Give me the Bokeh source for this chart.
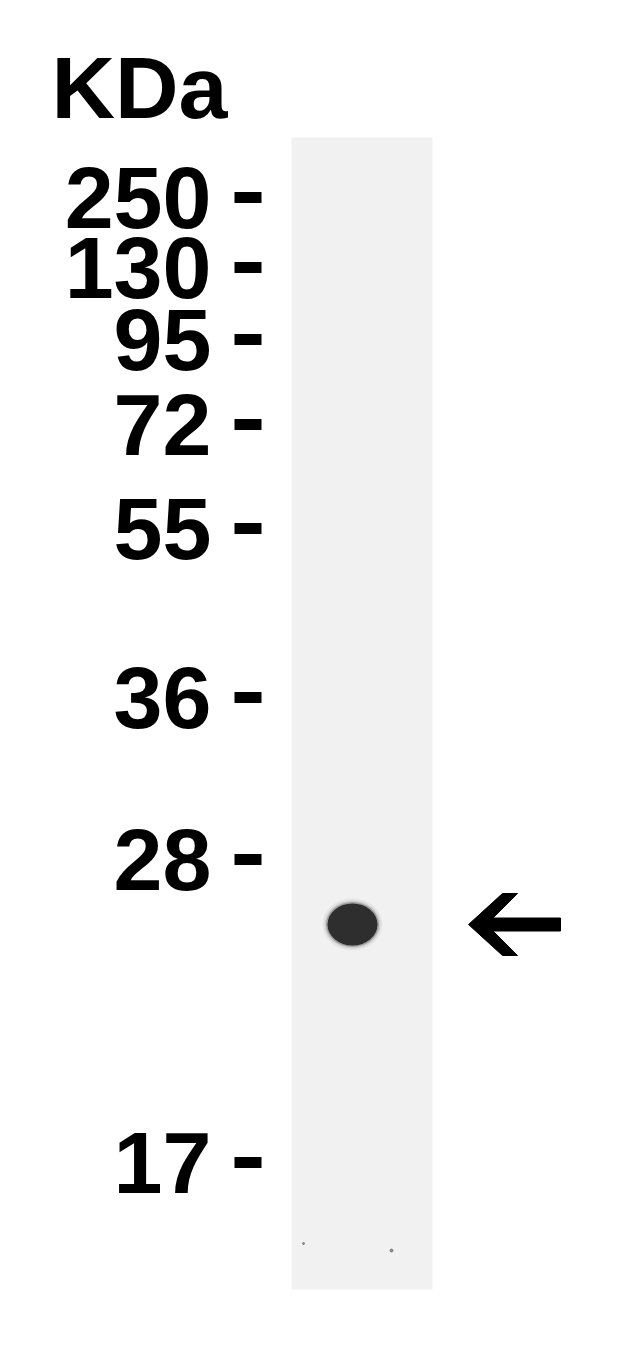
from bokeh.plotting import figure
from bokeh.models import Range1d
from bokeh.core.properties import value
from bokeh.embed import file_html
from bokeh.resources import INLINE

# Marker ladder (kDa) and their migration positions (image rows)
markers = ["250", "130", "95", "72", "55", "36", "28", "17"]
marker_pos = [197, 267, 339, 424, 528, 697, 859, 1162]

# Lane extent
lane_left, lane_right = 291, 432
lane_top, lane_bottom = 137, 1289

# Detected band
band_x = [352]
band_y = [924]
band_w = [50]
band_h = [42]

# Arrow pointing at band
arrow_tip_x = 468
arrow_end_x = 560

W, H = 614, 1346
p = figure(width=W, height=H, x_range=Range1d(0, W), y_range=Range1d(H, 0),
           output_backend="svg", toolbar_location=None, min_border=0,
           background_fill_color="white", border_fill_color="white")
p.axis.visible = False
p.grid.visible = False
p.outline_line_color = None

# lane
p.quad(left=[lane_left], right=[lane_right], top=[lane_top], bottom=[lane_bottom],
       fill_color="#f1f1f1", line_color=None)
# faint specks
p.scatter(x=[303, 391], y=[1243, 1250], size=[2, 3], color="#555555", alpha=0.6)

# band with soft edge
for grow, a in [(10, 0.06), (6, 0.12), (3, 0.3), (0, 1.0)]:
    p.ellipse(x=band_x, y=band_y, width=[w + grow for w in band_w],
              height=[h + grow for h in band_h], fill_color="#2e2e2e",
              fill_alpha=a, line_color=None)

# marker labels and dashes
font = value("Liberation Sans")
p.text(x=[211] * len(markers), y=marker_pos, text=markers,
       text_font=font, text_font_style="bold", text_font_size="88px",
       text_align="right", text_baseline="middle", text_color="black")
p.segment(x0=[234] * len(markers), x1=[261] * len(markers), y0=marker_pos, y1=marker_pos,
          line_color="black", line_width=11)

p.text(x=[51], y=[87], text=["KDa"], text_font=font, text_font_style="bold",
       text_font_size="88px", text_align="left", text_baseline="middle",
       text_color="black")

# arrow polygon computed from band position
by = band_y[0]
t = arrow_tip_x
xs = [t, t + 34, t + 49, t + 24.5, arrow_end_x, arrow_end_x, t + 24.5, t + 49, t + 34]
ys = [by, by - 31, by - 31, by - 6.5, by - 6.5, by + 6.5, by + 6.5, by + 31, by + 31]
p.patch(x=xs, y=ys, fill_color="black", line_color="black", line_width=1)

open("out.html", "w").write(file_html(p, INLINE))
